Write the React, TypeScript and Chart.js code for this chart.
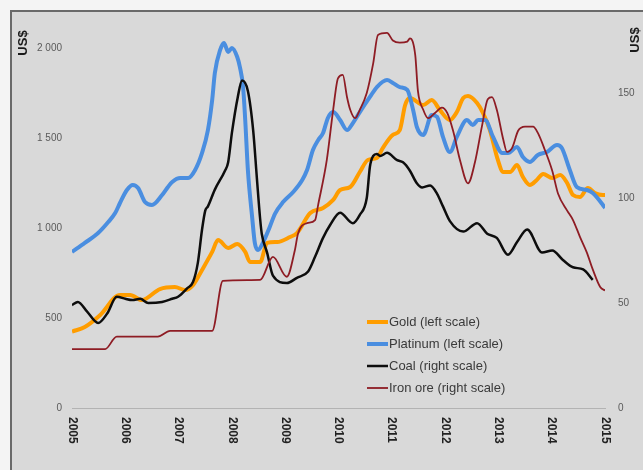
import React, { useEffect, useRef } from "react";
import { Chart, registerables } from "chart.js";

Chart.register(...registerables);

const yearLabels = [2005, 2006, 2007, 2008, 2009, 2010, 2011, 2012, 2013, 2014, 2015];
const leftTickValues = [0, 500, 1000, 1500, 2000];
const rightTickValues = [0, 50, 100, 150];
const leftAxisTitle = "US$";
const rightAxisTitle = "US$";

const seriesNames = ["Gold (left scale)", "Platinum (left scale)", "Coal (right scale)", "Iron ore (right scale)"];

// [decimal year, US$] left scale
const gold: number[][] = [
  [2005.0, 425], [2005.24, 450], [2005.53, 517], [2005.9, 628], [2006.09, 628], [2006.31, 600],
  [2006.65, 661], [2006.93, 672], [2007.12, 656], [2007.27, 683], [2007.44, 767], [2007.63, 867],
  [2007.74, 933], [2007.93, 889], [2008.1, 911], [2008.25, 867], [2008.34, 811], [2008.53, 811],
  [2008.66, 917], [2008.85, 922], [2009.09, 950], [2009.22, 972], [2009.47, 1083], [2009.71, 1111],
  [2009.9, 1156], [2010.03, 1211], [2010.22, 1228], [2010.4, 1311], [2010.55, 1378], [2010.72, 1389],
  [2010.83, 1444], [2011.02, 1517], [2011.15, 1544], [2011.25, 1683], [2011.34, 1722], [2011.59, 1683],
  [2011.75, 1711], [2011.9, 1656], [2012.09, 1600], [2012.22, 1644], [2012.34, 1722], [2012.43, 1733],
  [2012.6, 1694], [2012.71, 1639], [2012.84, 1544], [2012.99, 1378], [2013.09, 1311], [2013.22, 1311],
  [2013.35, 1350], [2013.46, 1283], [2013.59, 1239], [2013.72, 1267], [2013.84, 1300], [2014.01, 1278],
  [2014.16, 1294], [2014.29, 1250], [2014.4, 1183], [2014.53, 1172], [2014.68, 1222], [2014.81, 1194],
  [2014.96, 1183], [2015.0, 1183],
];

const platinum: number[][] = [
  [2005.0, 867], [2005.24, 917], [2005.49, 972], [2005.68, 1033], [2005.81, 1083], [2005.9, 1139],
  [2006.03, 1211], [2006.14, 1239], [2006.24, 1222], [2006.37, 1144], [2006.5, 1128], [2006.69, 1183],
  [2006.8, 1228], [2006.88, 1256], [2007.03, 1278], [2007.18, 1278], [2007.31, 1322], [2007.44, 1417],
  [2007.55, 1544], [2007.63, 1711], [2007.68, 1861], [2007.78, 1989], [2007.85, 2028], [2007.93, 1978],
  [2008.0, 2000], [2008.1, 1950], [2008.15, 1894], [2008.21, 1783], [2008.25, 1600], [2008.3, 1322],
  [2008.38, 1060], [2008.43, 917], [2008.49, 878], [2008.58, 917], [2008.71, 1006], [2008.81, 1080],
  [2008.96, 1144], [2009.15, 1200], [2009.32, 1267], [2009.41, 1322], [2009.52, 1433], [2009.62, 1489],
  [2009.71, 1528], [2009.8, 1611], [2009.9, 1644], [2010.03, 1600], [2010.16, 1544], [2010.27, 1583],
  [2010.4, 1644], [2010.59, 1728], [2010.72, 1783], [2010.91, 1822], [2011.02, 1806], [2011.15, 1783],
  [2011.29, 1767], [2011.4, 1656], [2011.47, 1561], [2011.59, 1517], [2011.75, 1628], [2011.85, 1617],
  [2011.96, 1506], [2012.09, 1422], [2012.22, 1506], [2012.41, 1600], [2012.52, 1572], [2012.62, 1600],
  [2012.75, 1600], [2012.9, 1506], [2013.07, 1417], [2013.18, 1417], [2013.35, 1450], [2013.46, 1394],
  [2013.59, 1367], [2013.74, 1406], [2013.91, 1422], [2014.1, 1461], [2014.19, 1444], [2014.34, 1322],
  [2014.47, 1228], [2014.66, 1211], [2014.77, 1194], [2014.96, 1128], [2015.0, 1111],
];

// [decimal year, US$] right scale
const coal: number[][] = [
  [2005.0, 49], [2005.11, 50.5], [2005.28, 46], [2005.49, 40.5], [2005.66, 45], [2005.84, 53],
  [2006.0, 52], [2006.13, 51.4], [2006.28, 52], [2006.43, 50], [2006.69, 50.5], [2006.88, 52],
  [2006.99, 53], [2007.16, 57], [2007.27, 60], [2007.36, 69], [2007.44, 85], [2007.5, 94],
  [2007.55, 96], [2007.68, 104], [2007.87, 113], [2007.93, 117], [2008.0, 131], [2008.11, 148],
  [2008.19, 156], [2008.3, 151], [2008.4, 132], [2008.47, 109], [2008.53, 90], [2008.56, 83],
  [2008.66, 74], [2008.77, 63], [2009.03, 59.5], [2009.22, 62], [2009.43, 65], [2009.56, 72],
  [2009.71, 81], [2009.84, 87], [2010.03, 93], [2010.27, 88], [2010.4, 92], [2010.53, 100],
  [2010.59, 115], [2010.65, 120], [2010.72, 121], [2010.78, 120], [2010.91, 121.5], [2011.1, 118],
  [2011.21, 117], [2011.34, 113], [2011.47, 107], [2011.57, 105], [2011.72, 106], [2011.85, 102],
  [2011.96, 96], [2012.09, 89], [2012.34, 84], [2012.6, 88], [2012.79, 83], [2012.97, 81],
  [2013.18, 73], [2013.35, 79], [2013.54, 85], [2013.82, 74], [2014.01, 75], [2014.21, 70.5],
  [2014.4, 67], [2014.59, 66], [2014.77, 61],
];

const ironOre: number[][] = [
  [2005.0, 28], [2005.62, 28], [2005.84, 34], [2006.61, 34], [2006.84, 36.7], [2007.63, 36.7],
  [2007.83, 60.5], [2008.53, 61], [2008.77, 72], [2009.03, 62.5], [2009.18, 75], [2009.24, 83],
  [2009.41, 88], [2009.56, 89.5], [2009.62, 97], [2009.78, 118], [2009.9, 142], [2009.99, 157],
  [2010.08, 158.6], [2010.16, 148], [2010.22, 142], [2010.31, 138], [2010.4, 142], [2010.53, 150],
  [2010.65, 164], [2010.74, 177.6], [2010.91, 178.6], [2011.02, 175], [2011.15, 174], [2011.29, 174.5],
  [2011.34, 176], [2011.44, 168], [2011.49, 151], [2011.59, 142], [2011.68, 138], [2011.81, 140.5],
  [2011.94, 143], [2012.04, 140.5], [2012.15, 132], [2012.28, 118], [2012.43, 107], [2012.56, 117],
  [2012.69, 134], [2012.8, 147], [2012.88, 148], [2012.97, 142], [2013.09, 128], [2013.16, 122],
  [2013.26, 124], [2013.37, 132], [2013.5, 134], [2013.65, 134], [2013.74, 131], [2013.87, 123],
  [2014.01, 113], [2014.12, 102], [2014.29, 94], [2014.4, 89.5], [2014.53, 81.5], [2014.66, 74],
  [2014.77, 66], [2014.91, 57.6], [2015.0, 56],
];

const colors = ["#ff9d00", "#4a8ee0", "#0d0d0d", "#8e1c24"];
const widths = [4, 4, 2.5, 1.8];

const toPoints = (arr: number[][]) => arr.map(([x, y]) => ({ x, y }));
const fmt = (v: number) => String(v).replace(/\B(?=(\d{3})+(?!\d))/g, " ");

const decorPlugin = {
  id: "decor",
  beforeDraw(chart: any) {
    const ctx = chart.ctx;
    ctx.save();
    ctx.fillStyle = "#f4f4f4";
    ctx.fillRect(0, 0, chart.width, chart.height);
    ctx.fillStyle = "#d9d9d9";
    ctx.fillRect(10, 10, chart.width - 10, chart.height - 10);
    ctx.strokeStyle = "#6a6a6a";
    ctx.lineWidth = 2;
    ctx.beginPath();
    ctx.moveTo(11, chart.height);
    ctx.lineTo(11, 11);
    ctx.lineTo(chart.width, 11);
    ctx.stroke();
    ctx.restore();
  },
  afterDraw(chart: any) {
    const ctx = chart.ctx;
    const xs = chart.scales.x;
    const area = chart.chartArea;
    ctx.save();
    ctx.fillStyle = "#1a1a1a";
    ctx.font = "bold 13px 'Liberation Sans', Arial, sans-serif";
    ctx.textAlign = "center";
    ctx.textBaseline = "middle";
    ctx.save();
    ctx.translate(23, 43);
    ctx.rotate(-Math.PI / 2);
    ctx.fillText(leftAxisTitle, 0, 0);
    ctx.restore();
    ctx.save();
    ctx.translate(635, 40);
    ctx.rotate(-Math.PI / 2);
    ctx.fillText(rightAxisTitle, 0, 0);
    ctx.restore();
    ctx.font = "bold 12px 'Liberation Sans', Arial, sans-serif";
    ctx.fillStyle = "#222";
    ctx.textAlign = "left";
    ctx.textBaseline = "middle";
    yearLabels.forEach((yr) => {
      const px = xs.getPixelForValue(yr);
      ctx.save();
      ctx.translate(px, area.bottom + 9);
      ctx.rotate(Math.PI / 2);
      ctx.fillText(String(yr), 0, 0);
      ctx.restore();
    });
    ctx.font = "13px 'Liberation Sans', Arial, sans-serif";
    seriesNames.forEach((name, i) => {
      const y = 322 + i * 22;
      ctx.strokeStyle = colors[i];
      ctx.lineWidth = widths[i];
      ctx.beginPath();
      ctx.moveTo(367, y);
      ctx.lineTo(388, y);
      ctx.stroke();
      ctx.fillStyle = "#3a3a3a";
      ctx.fillText(name, 389, y);
    });
    ctx.restore();
  },
};

export default function App() {
  const ref = useRef<HTMLCanvasElement | null>(null);
  useEffect(() => {
    if (!ref.current) return;
    const seriesData = [gold, platinum, coal, ironOre];
    const axes = ["y", "y", "y1", "y1"];
    const chart = new Chart(ref.current, {
      type: "line",
      data: {
        datasets: seriesData.map((d, i) => ({
          label: seriesNames[i],
          data: toPoints(d),
          borderColor: colors[i],
          backgroundColor: colors[i],
          borderWidth: widths[i],
          pointRadius: 0,
          fill: false,
          cubicInterpolationMode: "monotone" as const,
          yAxisID: axes[i],
          order: 4 - i,
        })),
      },
      options: {
        responsive: false,
        animation: false,
        devicePixelRatio: 1,
        layout: { padding: { top: 30, left: 0, right: 0, bottom: 0 } },
        plugins: { legend: { display: false }, tooltip: { enabled: false } },
        scales: {
          x: {
            type: "linear",
            min: 2005,
            max: 2015,
            ticks: { display: false },
            grid: { display: false, drawTicks: false },
            border: { display: true, color: "#b3b3b3", width: 1 },
            afterFit: (s: any) => {
              s.height = 62;
            },
          },
          y: {
            position: "left",
            min: 0,
            max: 2100,
            ticks: {
              autoSkip: false,
              padding: 10,
              color: "#5a5a5a",
              font: { family: "'Liberation Sans', Arial, sans-serif", size: 10 },
              callback: (v: any) => fmt(Number(v)),
            },
            afterBuildTicks: (axis: any) => {
              axis.ticks = leftTickValues.map((value) => ({ value }));
            },
            grid: { display: false, drawTicks: false },
            border: { display: false },
            afterFit: (s: any) => {
              s.width = 72;
            },
          },
          y1: {
            position: "right",
            min: 0,
            max: 180,
            ticks: {
              autoSkip: false,
              padding: 13,
              color: "#5a5a5a",
              font: { family: "'Liberation Sans', Arial, sans-serif", size: 10 },
              callback: (v: any) => fmt(Number(v)),
            },
            afterBuildTicks: (axis: any) => {
              axis.ticks = rightTickValues.map((value) => ({ value }));
            },
            grid: { display: false, drawTicks: false },
            border: { display: false },
            afterFit: (s: any) => {
              s.width = 38;
            },
          },
        },
      },
      plugins: [decorPlugin],
    } as any);
    return () => chart.destroy();
  }, []);
  return (
    <div style={{ position: "fixed", left: 0, top: 0, width: 643, height: 470 }}>
      <canvas ref={ref} width={643} height={470} style={{ width: 643, height: 470, display: "block" }} />
    </div>
  );
}
